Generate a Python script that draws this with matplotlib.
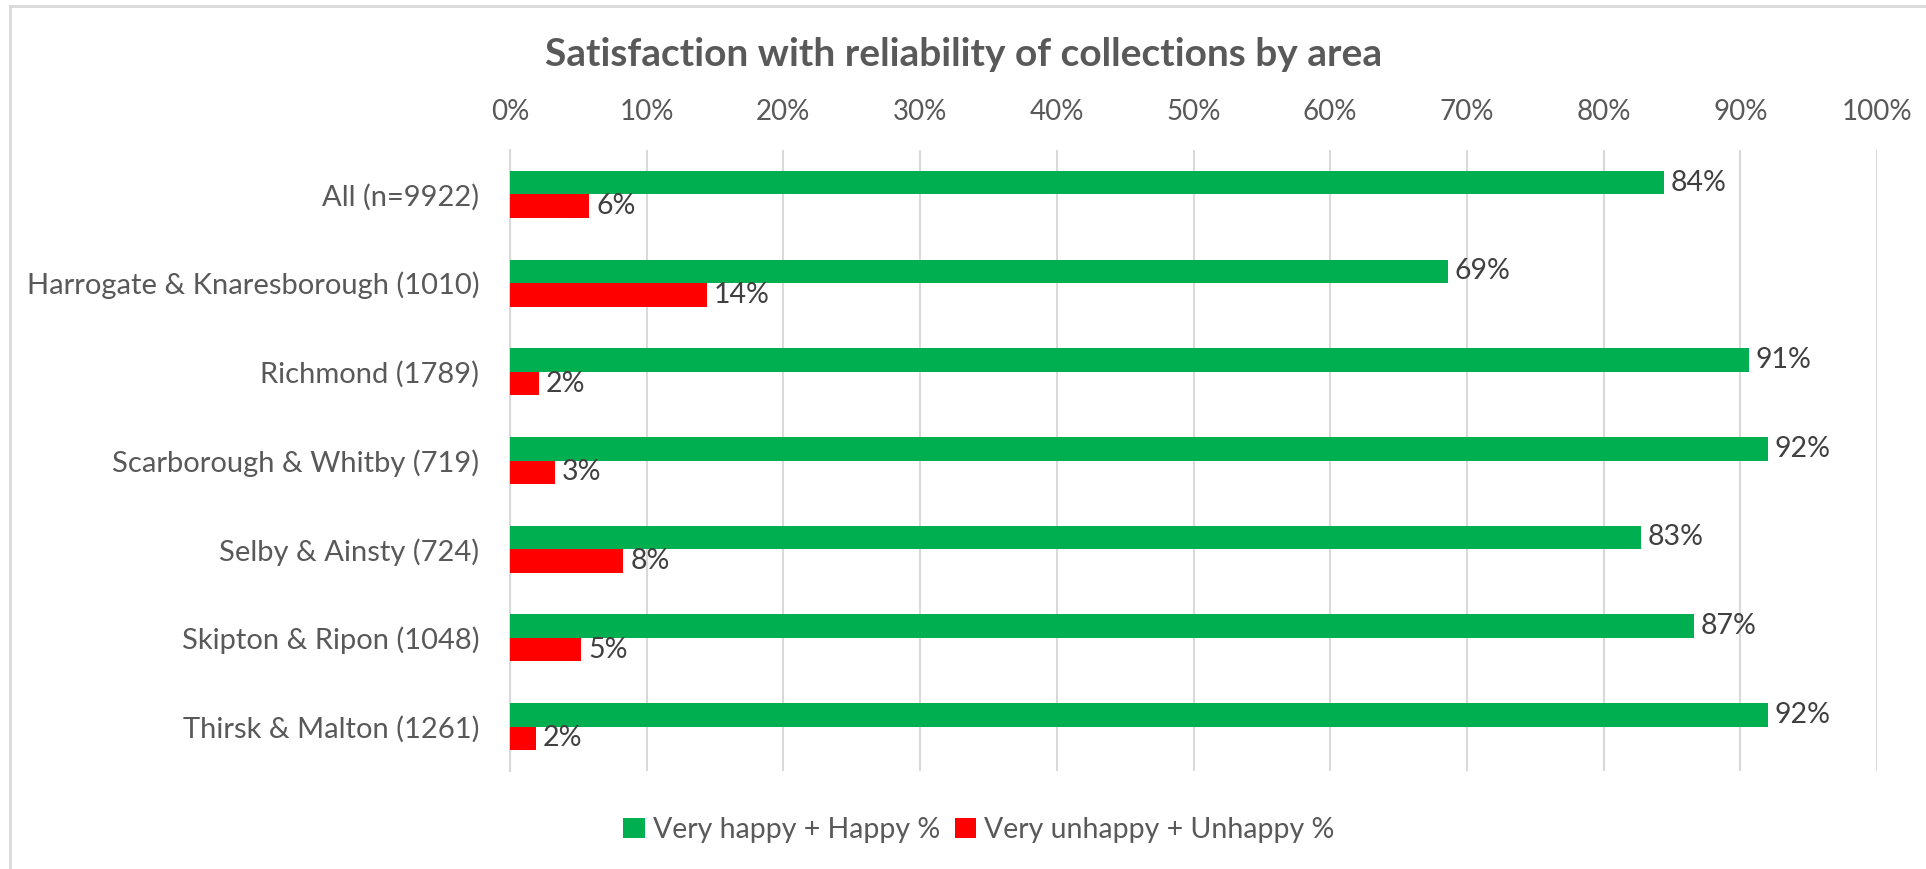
import matplotlib
matplotlib.use("Agg")
import matplotlib.pyplot as plt
from matplotlib.patches import Patch
from matplotlib.lines import Line2D
import numpy as np

categories = ["All (n=9922)", "Harrogate & Knaresborough (1010)", "Richmond (1789)",
              "Scarborough & Whitby (719)", "Selby & Ainsty (724)",
              "Skipton & Ripon (1048)", "Thirsk & Malton (1261)"]
happy = [84.4, 68.6, 90.6, 92.0, 82.7, 86.6, 92.0]
unhappy = [5.8, 14.4, 2.1, 3.3, 8.3, 5.2, 1.9]
series_names = ["Very happy + Happy %", "Very unhappy + Unhappy %"]
xticks = [0, 10, 20, 30, 40, 50, 60, 70, 80, 90, 100]
title = "Satisfaction with reliability of collections by area"

GREEN = "#00B050"
RED = "#FF0000"
GRID = "#D9D9D9"
TXT = "#595959"
LBL = "#404040"
FONT = "Lato"

plt.rcParams['font.family'] = [FONT, 'DejaVu Sans']

W, H = 1926, 869
fig = plt.figure(figsize=(W / 100, H / 100), dpi=100)
ax = fig.add_axes([510 / W, 1 - 771 / H, (1877 - 510) / W, (771 - 150) / H])

y = np.arange(len(categories))
h = 0.265
ax.barh(y - h / 2, happy, height=h, color=GREEN, zorder=3)
ax.barh(y + h / 2, unhappy, height=h, color=RED, zorder=3)


def pct(v):
    return f"{int(np.floor(v + 0.5))}%"


for yi, v in zip(y, happy):
    ax.annotate(pct(v), (v, yi - h / 2), xytext=(5, 0), textcoords="offset points",
                va="center", ha="left", fontsize=20.5, color=LBL)
for yi, v in zip(y, unhappy):
    ax.annotate(pct(v), (v, yi + h / 2), xytext=(5, 0), textcoords="offset points",
                va="center", ha="left", fontsize=20.5, color=LBL)

ax.set_xlim(0, 100)
ax.set_ylim(len(categories) - 0.5, -0.5)
ax.set_xticks(xticks)
ax.set_xticklabels([f"{t}%" for t in xticks])
ax.xaxis.tick_top()
ax.set_yticks(y)
ax.set_yticklabels(categories)
ax.tick_params(axis="x", length=0, pad=18, labelsize=20, labelcolor=TXT)
ax.tick_params(axis="y", length=0, pad=22, labelsize=21, labelcolor=TXT)
ax.grid(axis="x", color=GRID, linewidth=1.5, zorder=0)
for s in ["top", "right", "bottom"]:
    ax.spines[s].set_visible(False)
ax.spines["left"].set_color(GRID)
ax.spines["left"].set_linewidth(1.5)

fig.text(964 / W, 1 - 55 / H, title, ha="center", va="center", fontsize=28,
         fontweight="bold", color=TXT)

handles = [Patch(facecolor=GREEN), Patch(facecolor=RED)]
fig.legend(handles, series_names, loc="center", bbox_to_anchor=(979 / W, 1 - 830 / H),
           ncol=2, frameon=False, fontsize=20.5, labelcolor=TXT, handlelength=0.75,
           handleheight=0.75, handletextpad=0.3, columnspacing=0.5)

# chart area border (left and top)
fig.add_artist(Line2D([10 / W, 10 / W], [0, 1 - 6 / H], color=GRID, linewidth=2, transform=fig.transFigure))
fig.add_artist(Line2D([10 / W, 1], [1 - 6 / H, 1 - 6 / H], color=GRID, linewidth=2, transform=fig.transFigure))

fig.savefig("out.png", dpi=100, facecolor="white")
